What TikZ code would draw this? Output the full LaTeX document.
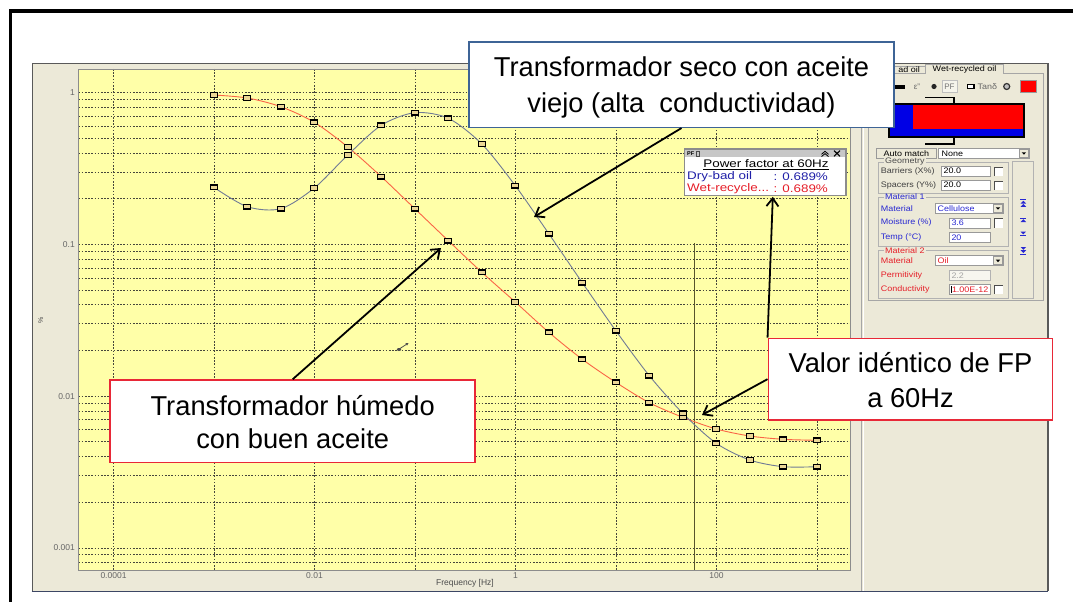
\documentclass[tikz,border=0pt]{standalone}
\usepackage{fontspec}
\usepackage{graphicx}
\setmainfont{Liberation Sans}
\usetikzlibrary{arrows.meta}
\definecolor{winbg}{RGB}{236,233,216}
\definecolor{plotyel}{RGB}{255,255,168}
\definecolor{redcurve}{RGB}{250,100,70}
\definecolor{graycurve}{RGB}{112,122,150}
\definecolor{boxblue}{RGB}{62,100,150}
\definecolor{boxred}{RGB}{232,40,55}
\definecolor{uiblue}{RGB}{40,40,210}
\definecolor{uired}{RGB}{230,30,40}
\definecolor{mkfill}{RGB}{235,215,150}
\definecolor{gridc}{RGB}{70,70,60}
\definecolor{winedge}{RGB}{60,70,100}
\newcommand{\uisx}[1]{\scalebox{1.12}[1]{#1}}
\newcommand{\lgsx}[1]{\scalebox{1.22}[1]{#1}}
\newcommand{\dropbtn}[3]{%
  \draw[black!40, fill=winbg, line width=0.5pt] (#1,{#3-4}) rectangle (#2,{#3+4});
  \fill ({(#1+#2)/2-2.2},{#3-1}) -- ({(#1+#2)/2+2.2},{#3-1}) -- ({(#1+#2)/2},{#3+1.4}) -- cycle;}
\newcommand{\chkbox}[2]{%
  \fill[white] (#1,{#2-4.5}) rectangle ({#1+9},{#2+4.5});
  \draw[black!70, line width=0.7pt] (#1,{#2+4.5}) -- (#1,{#2-4.5}) -- ({#1+9},{#2-4.5});}
\begin{document}
\begin{tikzpicture}[x=1pt,y=-1pt,
  callout/.style={fill=white, line width=1.5pt, inner sep=0},
  calltext/.style={font=\fontsize{27.3}{30}\selectfont, anchor=base, inner sep=0},
  pointer/.style={line width=1.8pt, -{Straight Barb[length=8pt,width=12pt,line width=1.8pt]}},
  gridline/.style={gridc, line width=0.6pt, dash pattern=on 1.6pt off 1.6pt},
  mk/.style={draw=black, fill=mkfill, line width=1.1pt},
  ui/.style={font=\fontsize{8}{9}\selectfont, inner sep=0, anchor=west},
  ticklab/.style={font=\fontsize{8.5}{9}\selectfont, inner sep=0, text=black!60},
  field/.style={draw=black!40, fill=white, line width=0.6pt},
  grp/.style={draw=black!30, line width=0.6pt},
  lg/.style={font=\fontsize{11}{12}\selectfont, inner sep=0}]
\useasboundingbox (0,0) rectangle (1073,602);
\clip (0,0) rectangle (1073,602);
\fill[white] (0,0) rectangle (1073,602);
% outer frame
\draw[black, line width=3.6pt] (10.3,640) -- (10.3,11) -- (1100,11);
% application window
\fill[winbg] (31.7,62.7) rectangle (1048,592);
\draw[black!65, line width=1.2pt] (32.3,591) -- (32.3,63.3) -- (1048,63.3) -- (1048,591);
\draw[winedge, line width=1.6pt] (31.7,591.5) -- (1048,591.5);
% plot area
\fill[plotyel] (78.5,69) rectangle (850.2,570);
\foreach \d in {-4,...,3}
  \draw[gridline] ({515.5+100.5*\d},69) -- ({515.5+100.5*\d},570);
\draw[gridline] (78.5,92.7) -- (850.2,92.7);
\foreach \d in {-1,-2,-3}
  \foreach \m in {1,...,9}
    \draw[gridline] (78.5,{92.7-151.7*(\d+log10(\m))}) -- (850.2,{92.7-151.7*(\d+log10(\m))});
\foreach \m in {8,9}
  \draw[gridline] (78.5,{92.7-151.7*(-4+log10(\m))}) -- (850.2,{92.7-151.7*(-4+log10(\m))});
\draw[black!45, line width=0.6pt] (78.5,69) rectangle (850.2,570);
\draw[black!50!olive, line width=0.8pt] (694.2,243) -- (694.2,570);
% axis labels
\node[ticklab, anchor=east] (y1) at (75,92.7) {1};
\node[ticklab, anchor=east] (y2) at (75,244.4) {0.1};
\node[ticklab, anchor=east] (y3) at (75,396.1) {0.01};
\node[ticklab, anchor=east] (y4) at (75,547.8) {0.001};
\node[ticklab] (x1) at (113.5,576) {0.0001};
\node[ticklab] (x2) at (314.5,576) {0.01};
\node[ticklab] (x3) at (515.5,576) {1};
\node[ticklab] (x4) at (716.5,576) {100};
\node[ticklab, text=black!70] (xt) at (465,583.7) {Frequency [Hz]};
\node[ticklab, text=black!70, rotate=90, font=\fontsize{7}{7}\selectfont] (yt) at (40.7,320) {\%};
% cursor icon
\fill[black!70] (399,349.5) ellipse (2.2 and 1.5);
\draw[black!70, line width=0.8pt, -{Stealth[length=3pt,width=3pt]}] (400,348.5) -- (408.5,343);
% curves
\draw[redcurve, line width=0.9pt] plot[smooth, tension=0.5] coordinates {(213.8,95) (247.3,98) (280.8,106.7) (314.3,122.3) (347.8,147) (381.3,176.7) (414.8,208.7) (448.3,240.7) (481.8,272.3) (515.3,302) (548.8,332.3) (582.3,359.3) (615.8,382.3) (649.3,402.7) (682.8,417.3) (716.3,429) (749.8,436) (783.3,439.3) (816.8,440.3)};
\draw[graycurve, line width=0.9pt] plot[smooth, tension=0.5] coordinates {(213.8,187.3) (247.3,206.7) (280.8,208.7) (314.3,188) (347.8,155) (381.3,125.3) (414.8,112.7) (448.3,118.3) (481.8,144) (515.3,185.7) (548.8,233.7) (582.3,282.7) (615.8,330.7) (649.3,375.7) (682.8,413.3) (716.3,443.3) (749.8,460) (783.3,466.7) (816.8,466.7)};
\foreach \x/\y in {213.8/95, 247.3/98, 280.8/106.7, 314.3/122.3, 347.8/147, 381.3/176.7, 414.8/208.7, 448.3/240.7, 481.8/272.3, 515.3/302, 548.8/332.3, 582.3/359.3, 615.8/382.3, 649.3/402.7, 682.8/417.3, 716.3/429, 749.8/436, 783.3/439.3, 816.8/440.3,
  213.8/187.3, 247.3/206.7, 280.8/208.7, 314.3/188, 347.8/155, 381.3/125.3, 414.8/112.7, 448.3/118.3, 481.8/144, 515.3/185.7, 548.8/233.7, 582.3/282.7, 615.8/330.7, 649.3/375.7, 682.8/413.3, 716.3/443.3, 749.8/460, 783.3/466.7, 816.8/466.7}
  \draw[mk] ({\x-3.5},{\y-2.3}) rectangle ({\x+3.5},{\y+2.3});
% PF legend box
\node[draw=black!45, fill=white, line width=1.2pt, minimum width=161.5pt, minimum height=46.7pt, inner sep=0] (pfbox) at (765.25,172.35) {};
\fill[black!22] (685.2,149.6) rectangle (845.3,157.3);
\node[inner sep=0, anchor=west, font=\bfseries\fontsize{5.5}{6}\selectfont] (pft) at (687,153.4) {PF};
\draw[black!70, line width=0.6pt] (696.5,151) rectangle (699.5,155.8);
\draw[black, line width=0.8pt] (821.5,154.3) -- (825,151.3) -- (828.5,154.3) (821.5,156.6) -- (825,153.6) -- (828.5,156.6);
\draw[black, line width=1.1pt] (834,150.6) -- (840,156.3) (834,156.3) -- (840,150.6);
\node[lg] (pfh) at (766,164.3) {\lgsx{\underline{Power factor at 60Hz}}};
\node[lg, anchor=west, text=uiblue!80!black] (dry) at (687,176.7) {\lgsx{Dry-bad oil}};
\node[lg, anchor=west, text=uiblue!80!black] (dryv) at (773.5,176.7) {\lgsx{: 0.689\%}};
\node[lg, anchor=west, text=uired] (wet) at (687,188.7) {\lgsx{Wet-recycle...}};
\node[lg, anchor=west, text=uired] (wetv) at (773.5,188.7) {\lgsx{: 0.689\%}};
% right panel
\draw[black!35, line width=0.8pt] (861.5,63.3) -- (861.5,591);
\draw[white, line width=0.8pt] (863,63.3) -- (863,591);
\draw[black!35, line width=0.7pt] (868,73.3) rectangle (1043,300);
\draw[black!35, line width=0.7pt] (870,73.3) -- (870,66) -- (925.7,66);
\node[ui, anchor=east] (tab1) at (920,69.8) {\uisx{ad oil}};
\draw[black!35, fill=winbg, line width=0.7pt] (925.7,73.3) -- (925.7,64) -- (1003.3,64) -- (1003.3,73.3);
\draw[winbg, line width=1pt] (926.3,73.3) -- (1002.7,73.3);
\node[ui, anchor=center] (tab2) at (964.5,69) {\uisx{Wet-recycled oil}};
% radio row
\fill[black] (895,84.5) rectangle (905,88.5);
\node[ui, anchor=center, text=black!60] (eps) at (917,86.5) {ε''};
\fill[black!85] (934,86.5) circle (2.6);
\draw[black!25, fill=white!50!winbg] (942.3,80.5) rectangle (956.7,92.5);
\node[ui, anchor=center, text=black!55] (pfsel) at (949.5,86.5) {PF};
\draw[black, line width=1.1pt, fill=white] (967.3,84.2) rectangle (974,88.7);
\node[ui, text=black!60] (tand) at (977.5,86.5) {\uisx{Tanδ}};
\draw[black!80, line width=1.2pt, fill=black!25] (1006.7,86.5) circle (3);
\fill[red] (1020,80.5) rectangle (1036,92);
\draw[black!40, line width=0.5pt] (1020,80.5) rectangle (1036,92);
% insulation diagram
\fill[blue!90!black] (889.3,104) rectangle (1024,137.3);
\fill[red] (913.3,105.3) rectangle (1023,129.3);
\draw[black, line width=1.8pt] (889.3,104) rectangle (1024,137.3);
\draw[black, line width=1.2pt] (925,97.3) -- (954,97.3) -- (954,104);
\draw[black, line width=1.2pt] (954,137.3) -- (954,144) -- (925,144);
% auto match
\node[draw=black!40, fill=winbg, line width=0.6pt, font=\fontsize{8}{9}\selectfont, inner sep=0, minimum width=59.3pt, minimum height=10pt] (auto) at (906.35,153.3) {\uisx{Auto match}};
\draw[field] (938.7,148.3) rectangle (1029.3,158.3);
\node[ui] (none) at (941.5,153.3) {\uisx{None}};
\dropbtn{1019.5}{1028.3}{153.3}
% geometry group
\draw[grp] (878.3,162) rectangle (1008.3,193.3);
\node[ui, fill=winbg, inner xsep=1pt, text=black!70] (geo) at (884,162) {\uisx{Geometry}};
\node[ui, text=black!75] (bar) at (880.7,171) {\uisx{Barriers (X\%)}};
\draw[field] (941.7,166) rectangle (990,176);
\node[ui] (barv) at (943.5,171) {\uisx{20.0}};
\chkbox{994.3}{171.5}
\node[ui, text=black!75] (spa) at (880.7,185) {\uisx{Spacers (Y\%)}};
\draw[field] (941.7,180) rectangle (990,190);
\node[ui] (spav) at (943.5,185) {\uisx{20.0}};
\chkbox{994.3}{185.5}
% arrow column
\draw[grp] (1012.7,161.7) rectangle (1033.3,298.3);
\draw[uiblue, line width=0.9pt] (1020.3,199.8) -- (1026.3,199.8);
\fill[uiblue] (1020.5,203.6) -- (1026.1,203.6) -- (1023.3,200.8) -- cycle;
\fill[uiblue] (1020.5,206.8) -- (1026.1,206.8) -- (1023.3,204) -- cycle;
\draw[uiblue, line width=0.9pt] (1020.3,218.3) -- (1026.3,218.3);
\fill[uiblue] (1020.5,222) -- (1026.1,222) -- (1023.3,219.2) -- cycle;
\fill[uiblue] (1020.5,231.6) -- (1026.1,231.6) -- (1023.3,234.4) -- cycle;
\draw[uiblue, line width=0.9pt] (1020.3,235.3) -- (1026.3,235.3);
\fill[uiblue] (1020.5,247) -- (1026.1,247) -- (1023.3,249.8) -- cycle;
\fill[uiblue] (1020.5,250.2) -- (1026.1,250.2) -- (1023.3,253) -- cycle;
\draw[uiblue, line width=0.9pt] (1020.3,254) -- (1026.3,254);
% material 1
\draw[grp] (878.3,197) rectangle (1008.3,246);
\node[ui, fill=winbg, inner xsep=1pt, text=uiblue] (m1) at (884,197) {\uisx{Material 1}};
\node[ui, text=uiblue] (m1a) at (880.7,208.3) {\uisx{Material}};
\draw[field] (935,203.3) rectangle (1003.3,213.3);
\node[ui, text=uiblue] (m1av) at (937.5,208.3) {\uisx{Cellulose}};
\dropbtn{993.5}{1002.5}{208.3}
\node[ui, text=uiblue] (m1b) at (880.7,222.7) {\uisx{Moisture (\%)}};
\draw[field] (949.3,218) rectangle (990,228);
\node[ui, text=uiblue] (m1bv) at (951.3,222.7) {\uisx{3.6}};
\chkbox{994.3}{223}
\node[ui, text=uiblue] (m1c) at (880.7,237.3) {\uisx{Temp (°C)}};
\draw[field] (949.3,232.3) rectangle (990,242.3);
\node[ui, text=uiblue] (m1cv) at (951.3,237.3) {\uisx{20}};
% material 2
\draw[grp] (878.3,250.5) rectangle (1008.3,298);
\node[ui, fill=winbg, inner xsep=1pt, text=uired] (m2) at (884,250.5) {\uisx{Material 2}};
\node[ui, text=uired] (m2a) at (880.7,260.7) {\uisx{Material}};
\draw[field] (935,255.7) rectangle (1003.3,265.7);
\node[ui, text=uired] (m2av) at (937.5,260.7) {\uisx{Oil}};
\dropbtn{993.5}{1002.5}{260.7}
\node[ui, text=uired] (m2b) at (880.7,275.7) {\uisx{Permitivity}};
\draw[draw=black!30, fill=white!60!winbg, line width=0.6pt] (949.3,270.7) rectangle (990,280.7);
\node[ui, text=black!35] (m2bv) at (951.3,275.7) {\uisx{2.2}};
\node[ui, text=uired] (m2c) at (880.7,289.3) {\uisx{Conductivity}};
\draw[field] (949.3,284.3) rectangle (990,294.3);
\node[ui, text=uired] (m2cv) at (951.8,289.3) {\uisx{1.00E-12}};
\fill[black] (950.6,285.6) rectangle (952,293);
\chkbox{994.3}{289.5}
% callout boxes
\node[callout, draw=boxblue, minimum width=425pt, minimum height=85.3pt] (box1) at (681.5,84.65) {};
\node[calltext] (t1a) at (681.5,76) {Transformador seco con aceite};
\node[calltext] (t1b) at (681.5,112.7) {viejo (alta\ \ conductividad)};
\node[callout, draw=boxred, minimum width=365pt, minimum height=82.3pt] (box2) at (292.7,421.15) {};
\node[calltext] (t2a) at (292.7,415) {Transformador húmedo};
\node[calltext] (t2b) at (292.7,448.3) {con buen aceite};
\node[callout, draw=boxred, minimum width=284.4pt, minimum height=81.7pt] (box3) at (910.5,379.15) {};
\node[calltext] (t3a) at (910.5,372.7) {Valor idéntico de FP};
\node[calltext] (t3b) at (910.5,407.3) {a 60Hz};
% pointers
\coordinate (tipA) at (534,217);
\coordinate (tipB) at (441,248);
\coordinate (tipC) at (772.8,196.8);
\coordinate (tipD) at (702,415);
\draw[pointer] (box1.south) -- (tipA);
\draw[pointer] (box2.north) -- (tipB);
\draw[pointer] (box3.north west) -- (tipC);
\draw[pointer] (box3.west) -- (tipD);
\end{tikzpicture}
\end{document}
